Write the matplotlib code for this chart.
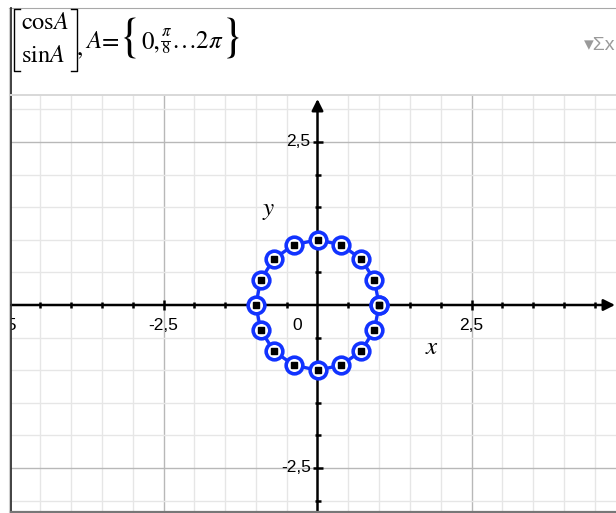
import numpy as np
import matplotlib
matplotlib.use('Agg')
import matplotlib.pyplot as plt
from matplotlib.lines import Line2D

plt.rcParams['font.family'] = ['Liberation Sans', 'DejaVu Sans']
plt.rcParams['mathtext.fontset'] = 'stix'

W, H = 616, 513

# A = {0, pi/8 ... 2pi}, points (cos A, sin A)
A = [k * np.pi / 8 for k in range(17)]
xs = [np.cos(a) for a in A]
ys = [np.sin(a) for a in A]

x_ticks = [-5, -2.5, 2.5]
x_labels = ['-5', '-2,5', '2,5']
y_ticks = [2.5, -2.5]
y_labels = ['2,5', '-2,5']

BLUE = '#1233ff'
SERIF = ['STIXGeneral', 'Liberation Serif', 'DejaVu Serif']


def P(x, y):
    # pixel -> figure fraction
    return x / W, 1 - y / H


def fig_line(fig, xs_px, ys_px, **kw):
    fx = [x / W for x in xs_px]
    fy = [1 - y / H for y in ys_px]
    fig.add_artist(Line2D(fx, fy, transform=fig.transFigure, **kw))


fig = plt.figure(figsize=(W / 100, H / 100), dpi=100)
fig.patch.set_facecolor('white')

# plot panel
left, right, top, bottom = 11, 616, 95, 512
ax = fig.add_axes([left / W, 1 - bottom / H, (right - left) / W, (bottom - top) / H])
ox, oy, sx, sy = 317.5, 305, 61.6, 65.2
ax.set_xlim((left - ox) / sx, (right - ox) / sx)
ax.set_ylim((oy - bottom) / sy, (oy - top) / sy)
ax.axis('off')

# grid
for v in np.arange(-4.5, 5.0, 0.5):
    if abs(v) < 1e-9:
        continue
    major = abs(abs(v) - 2.5) < 1e-9
    ax.axvline(v, color='#b8b8b8' if major else '#e6e6e6', lw=1.0, zorder=1)
for v in np.arange(-3.0, 3.5, 0.5):
    if abs(v) < 1e-9:
        continue
    major = abs(abs(v) - 2.5) < 1e-9
    ax.axhline(v, color='#b8b8b8' if major else '#e6e6e6', lw=1.0, zorder=1)

# axes with arrows
x0, x1 = ax.get_xlim()
y0, y1 = ax.get_ylim()
ax.annotate('', xy=((615 - ox) / sx, 0), xytext=(x0, 0),
            arrowprops=dict(arrowstyle='-|>', lw=1.8, color='black',
                            mutation_scale=17, shrinkA=0, shrinkB=0), zorder=3)
ax.annotate('', xy=(0, (oy - 99) / sy), xytext=(0, y0),
            arrowprops=dict(arrowstyle='-|>', lw=1.8, color='black',
                            mutation_scale=17, shrinkA=0, shrinkB=0), zorder=3)

# tick marks
minor_x = [v for v in np.arange(-4.5, 4.6, 0.5) if abs(v) > 1e-9 and abs(abs(v) - 2.5) > 1e-9]
minor_y = [v for v in np.arange(-3.0, 3.1, 0.5) if abs(v) > 1e-9 and abs(abs(v) - 2.5) > 1e-9]
ax.plot(minor_x, [0] * len(minor_x), ls='none', marker='|', ms=4.5, mew=1.8, color='black', zorder=4)
ax.plot([-2.5, 2.5], [0, 0], ls='none', marker='|', ms=7, mew=1.8, color='black', zorder=4)
ax.plot([0] * len(minor_y), minor_y, ls='none', marker='_', ms=4.5, mew=1.8, color='black', zorder=4)
ax.plot([0, 0], [-2.5, 2.5], ls='none', marker='_', ms=7, mew=1.8, color='black', zorder=4)

# tick labels
for v, s in zip(x_ticks, x_labels):
    ax.text(v, -0.32, s, ha='center', va='center', fontsize=12.5, clip_on=True)
ax.text(-0.33, -0.31, '0', ha='center', va='center', fontsize=12.5)
for v, s in zip(y_ticks, y_labels):
    ax.text(-0.11, v, s, ha='right', va='center', fontsize=12.5)

ax.text(1.86, -0.64, '$x$', ha='center', va='center', fontsize=18)
ax.text(-0.80, 1.45, '$y$', ha='center', va='center', fontsize=18)

# the points
ax.plot(xs, ys, color=BLUE, lw=2.4, marker='o', ms=12, mfc='white',
        mec=BLUE, mew=2.6, zorder=5)
ax.plot(xs, ys, ls='none', marker='s', ms=5, color='black', zorder=6)

# frame lines
fig_line(fig, [8.5, 8.5], [8, 513], color='#cfcfcf', lw=0.8)
fig_line(fig, [9, 616], [8, 8], color='#a8a8a8', lw=0.8)
fig_line(fig, [11, 11], [8, 513], color='#333333', lw=1.3)
fig_line(fig, [11, 616], [95, 95], color='#d8d8d8', lw=1.4)
fig_line(fig, [11, 616], [512, 512], color='#777777', lw=1.6)

# header expression: matrix brackets and entries
fig_line(fig, [20, 14, 14, 20], [9, 9, 71, 71], color='black', lw=1.0)
fig_line(fig, [71, 77, 77, 71], [9, 9, 71, 71], color='black', lw=1.0)
fig.text(*P(21, 23), r'$\mathrm{cos}A$', fontsize=17.5, ha='left', va='center')
fig.text(*P(21, 56), r'$\mathrm{sin}A$', fontsize=17.5, ha='left', va='center')

# rest of the row, chained left to right: (text, size, style, y centre, gap after)
pieces = [
    (',', 18, 'normal', 49, 3),
    ('A', 18, 'italic', 42, 0),
    ('=', 18, 'normal', 43, 0),
    ('{', 34, 'normal', 39, 0),
    ('0,', 18, 'normal', 42, 1),
    (None, 0, None, 0, 1),          # fraction pi / 8
    ('…2', 18, 'normal', 42, 0),
    ('π', 18, 'italic', 42, 0),
    ('}', 34, 'normal', 39, 0),
]
renderer = fig.canvas.get_renderer()
xpos = 77
for s, fs, style, yc, gap in pieces:
    if s is None:
        # small stacked fraction
        fw = 9
        fig.text(*P(xpos + fw / 2, 32), 'π', fontsize=12, style='italic',
                 family=SERIF, ha='center', va='center')
        fig_line(fig, [xpos, xpos + fw], [41, 41], color='black', lw=0.7)
        fig.text(*P(xpos + fw / 2, 49), '8', fontsize=12, family=SERIF,
                 ha='center', va='center')
        xpos += fw + gap
        continue
    t = fig.text(*P(xpos, yc), s, fontsize=fs, style=style, family=SERIF,
                 ha='left', va='center')
    bb = t.get_window_extent(renderer)
    xpos += bb.width + gap

fig.text(*P(615, 45), '▾Σx', color='#9a9a9a', fontsize=14, ha='right', va='center')

fig.savefig('out.png', dpi=100)
